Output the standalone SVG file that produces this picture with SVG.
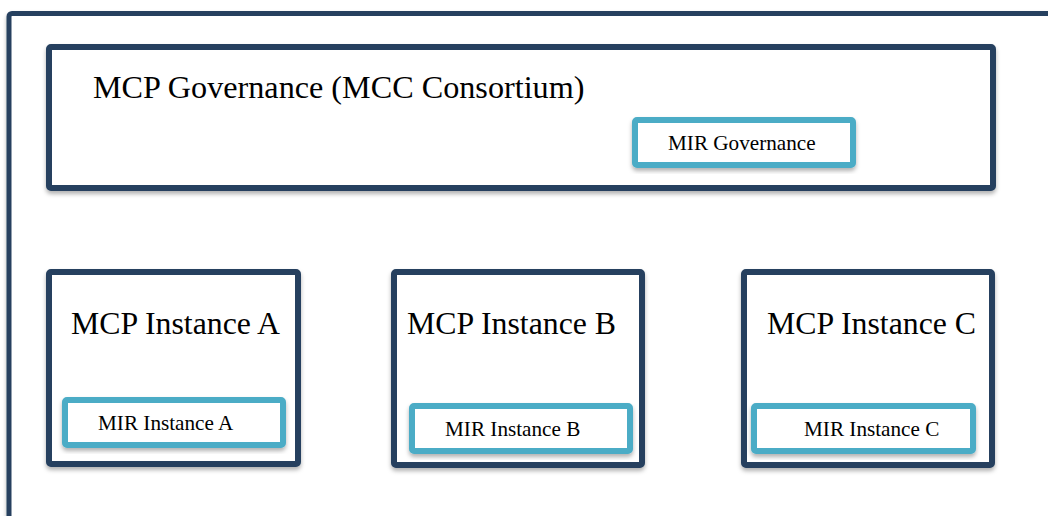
<svg xmlns="http://www.w3.org/2000/svg" width="1048" height="516" viewBox="0 0 1048 516">
  <defs>
    <filter id="shadow" x="-10%" y="-10%" width="120%" height="130%">
      <feDropShadow dx="0" dy="3" stdDeviation="2" flood-color="#000" flood-opacity="0.3"/>
    </filter>
    <style>
      .navy { fill: #ffffff; stroke: #26405f; stroke-width: 6; filter: url(#shadow); }
      .teal { fill: #ffffff; stroke: #4bacc6; stroke-width: 6; filter: url(#shadow); }
      .big { font-family: "Liberation Serif", "Times New Roman", serif; font-size: 31.8px; fill: #000; }
      .gov { font-size: 32.2px; }
      .small { font-family: "Liberation Serif", "Times New Roman", serif; font-size: 21.2px; fill: #000; }
    </style>
  </defs>
  <rect width="1048" height="516" fill="#ffffff"/>
  <g id="frame">
    <rect x="9" y="13.5" width="1070" height="540" rx="3" fill="#ffffff" stroke="#26405f" stroke-width="5" filter="url(#shadow)"/>
  </g>
  <g id="governance">
    <rect class="navy" x="49" y="47" width="944" height="141" rx="2"/>
    <text class="big gov" x="93" y="98">MCP Governance (MCC Consortium)</text>
  </g>
  <g id="mir-governance">
    <rect class="teal" x="635" y="120" width="218" height="45" rx="2"/>
    <text class="small" x="668" y="150">MIR Governance</text>
  </g>
  <g id="instance-a">
    <rect class="navy" x="49" y="272" width="249" height="192" rx="2"/>
    <text class="big" x="71" y="334">MCP Instance A</text>
  </g>
  <g id="mir-instance-a">
    <rect class="teal" x="65" y="400" width="218" height="45" rx="2"/>
    <text class="small" x="98" y="430">MIR Instance A</text>
  </g>
  <g id="instance-b">
    <rect class="navy" x="394" y="272" width="248" height="193" rx="2"/>
    <text class="big" x="407" y="334">MCP Instance B</text>
  </g>
  <g id="mir-instance-b">
    <rect class="teal" x="412" y="406" width="218" height="45" rx="2"/>
    <text class="small" x="445" y="436">MIR Instance B</text>
  </g>
  <g id="instance-c">
    <rect class="navy" x="744" y="272" width="248" height="193" rx="2"/>
    <text class="big" x="767" y="334">MCP Instance C</text>
  </g>
  <g id="mir-instance-c">
    <rect class="teal" x="754" y="406" width="219" height="45" rx="2"/>
    <text class="small" x="804" y="436">MIR Instance C</text>
  </g>
  <g id="connectors"/>
</svg>
